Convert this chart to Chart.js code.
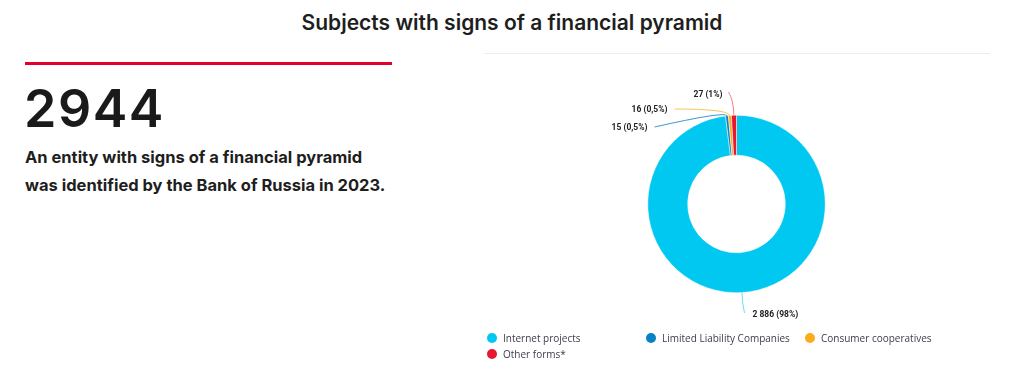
<!DOCTYPE html>
<html>
<head>
<meta charset="utf-8">
<title>Subjects with signs of a financial pyramid</title>
<script src="https://cdn.jsdelivr.net/npm/chart.js@4/dist/chart.umd.min.js"></script>
<style>
    html, body {
        margin: 0;
        padding: 0;
        background: #fff;
    }
    #page {
        position: relative;
        width: 1024px;
        height: 380px;
        overflow: hidden;
        font-family: Inter, "Noto Sans", sans-serif;
        color: #1a1a1a;
    }
    .title {
        position: absolute;
        left: 0;
        width: 1024px;
        top: 10px;
        text-align: center;
        font-weight: 600;
        font-size: 21px;
        color: #1e1e1e;
    }
    .rule-grey {
        position: absolute;
        left: 484px;
        top: 53px;
        width: 506px;
        height: 1px;
        background: #ececec;
    }
    .rule-red {
        position: absolute;
        left: 25px;
        top: 62px;
        width: 367px;
        height: 3px;
        background: #e4002b;
    }
    .big-number {
        position: absolute;
        left: 24px;
        top: 83px;
        font-size: 52px;
        font-weight: 600;
        letter-spacing: 1.5px;
        line-height: 1;
        color: #1a1a1a;
    }
    .caption {
        position: absolute;
        left: 25px;
        top: 143px;
        font-size: 16.5px;
        font-weight: 700;
        line-height: 28px;
        color: #1e1e1e;
    }
    #pie {
        position: absolute;
        left: 460px;
        top: 60px;
    }
    #legend {
        position: absolute;
        left: 487px;
        top: 330px;
        display: grid;
        grid-template-columns: 159px 159px auto;
        grid-auto-rows: 16px;
        font-family: "Open Sans", sans-serif;
        font-size: 10px;
        color: #3d3d4d;
    }
    #legend .item {
        display: flex;
        align-items: center;
        white-space: nowrap;
    }
    #legend .dot {
        width: 10px;
        height: 10px;
        border-radius: 50%;
        margin-right: 6px;
        flex: none;
    }
</style>
</head>
<body>
<div id="page">
    <div class="title">Subjects with signs of a financial pyramid</div>
    <div class="rule-grey"></div>
    <div class="rule-red"></div>
    <div class="big-number">2944</div>
    <div class="caption">An entity with signs of a financial pyramid<br>was identified by the Bank of Russia in 2023.</div>
    <canvas id="pie" width="553" height="290"></canvas>
    <div id="legend"></div>
</div>

<script>
// Chart data
var categories = ['Internet projects', 'Limited Liability Companies', 'Consumer cooperatives', 'Other forms*'];
var counts = [2886, 15, 16, 27];
var shares = ['98%', '0,5%', '0,5%', '1%'];

var sliceColors = ['#00c8f0', '#0a80c6', '#fbab1c', '#e5182f'];
var lineColors = ['rgba(0, 200, 240, 0.6)', 'rgba(10, 128, 198, 0.8)', 'rgba(251, 171, 28, 0.7)', 'rgba(229, 24, 47, 0.55)'];

// where each callout sits, relative to the centre of the ring
var calloutLayout = [
    { elbow: [6, 101], end: [8, 109], text: [16, 111], align: 'left' },
    { elbow: [-11, -93], end: [-82, -77], text: [-89, -76], align: 'right' },
    { elbow: [-8, -95], end: [-62, -95], text: [-69, -94], align: 'right' },
    { elbow: [-3, -104], end: [-8, -112], text: [-14, -109], align: 'right' }
];

function formatCount(n) {
    return String(n).replace(/\B(?=(\d{3})+(?!\d))/g, ' ');
}

var calloutPlugin = {
    id: 'callouts',
    afterDatasetsDraw: function(chart) {
        var ctx = chart.ctx;
        var arcs = chart.getDatasetMeta(0).data;
        ctx.save();
        arcs.forEach(function(arc, i) {
            var p = arc.getProps(['x', 'y', 'startAngle', 'endAngle', 'outerRadius'], true);
            var mid = (p.startAngle + p.endAngle) / 2;
            var sx = p.x + Math.cos(mid) * p.outerRadius;
            var sy = p.y + Math.sin(mid) * p.outerRadius;
            var lay = calloutLayout[i];

            ctx.beginPath();
            ctx.strokeStyle = lineColors[i];
            ctx.lineWidth = 1;
            ctx.lineJoin = 'round';
            ctx.moveTo(sx, sy);
            ctx.quadraticCurveTo(p.x + lay.elbow[0], p.y + lay.elbow[1], p.x + lay.end[0], p.y + lay.end[1]);
            ctx.stroke();

            ctx.fillStyle = '#222';
            ctx.font = 'bold 8.5px Roboto, sans-serif';
            ctx.textAlign = lay.align;
            ctx.textBaseline = 'middle';
            ctx.fillText(formatCount(counts[i]) + ' (' + shares[i] + ')', p.x + lay.text[0], p.y + lay.text[1]);
        });
        ctx.restore();
    }
};

var chart = new Chart(document.getElementById('pie'), {
    type: 'doughnut',
    data: {
        labels: categories,
        datasets: [{
            data: counts,
            backgroundColor: sliceColors,
            borderColor: '#ffffff',
            borderWidth: 0.5
        }]
    },
    options: {
        responsive: false,
        animation: false,
        cutout: '55%',
        layout: {
            padding: { top: 55, bottom: 57 }
        },
        plugins: {
            legend: { display: false },
            tooltip: { enabled: false }
        }
    },
    plugins: [calloutPlugin]
});

// Legend built from the chart's own labels and colours
var legendBox = document.getElementById('legend');
chart.data.labels.forEach(function(label, i) {
    var item = document.createElement('div');
    item.className = 'item';
    var dot = document.createElement('span');
    dot.className = 'dot';
    dot.style.background = chart.data.datasets[0].backgroundColor[i];
    var text = document.createElement('span');
    text.textContent = label;
    item.appendChild(dot);
    item.appendChild(text);
    legendBox.appendChild(item);
});
</script>
</body>
</html>
